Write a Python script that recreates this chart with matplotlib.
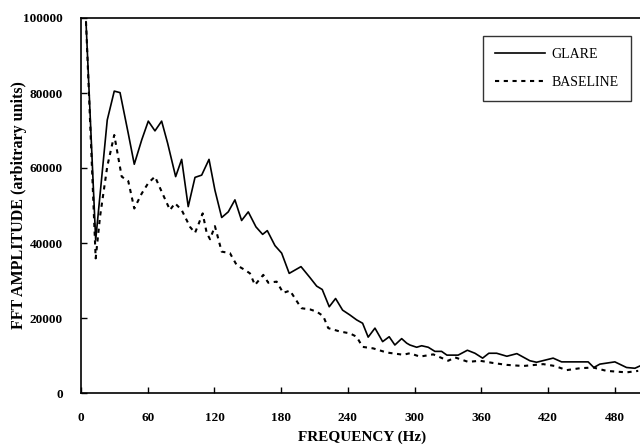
import matplotlib
matplotlib.use("Agg")
import matplotlib.pyplot as plt

# ---- data ----
glare_freq = [4.5, 13.2, 23.6, 29.9, 35.1, 42.5, 47.9, 54.6, 60.5, 66.5, 72.5, 77.9, 85.1, 90.5,
              96.4, 102.5, 108.5, 115.1, 120.4, 126.5, 132.4, 138.4, 144.4, 150.4, 157.3, 163.3,
              167.5, 174.4, 180.4, 187.2, 197.8, 205.8, 211.9, 216.9, 223.2, 228.9, 235.2, 241.8,
              247.8, 253.2, 258.2, 264.3, 271.2, 277.1, 282.2, 288.3, 292.8, 295.7, 301.8, 306.3,
              312.2, 318.2, 324.2, 329.0, 339.1, 347.4, 354.2, 361.1, 366.7, 373.7, 382.9, 391.9,
              403.6, 409.6, 424.5, 432.1, 444.0, 456.0, 461.1, 466.5, 480.0, 490.5, 498.0, 502.5]
glare_amp = [99000, 40800, 72800, 80500, 80100, 69200, 61000, 67500, 72500, 69900, 72500, 66600,
             57700, 62300, 49700, 57500, 58100, 62300, 54100, 46800, 48300, 51500, 46000, 48300,
             44300, 42300, 43300, 39300, 37300, 31900, 33700, 30800, 28500, 27600, 23000, 25200,
             22100, 20800, 19500, 18600, 14900, 17300, 13700, 15000, 12800, 14500, 13300, 12800,
             12200, 12600, 12200, 11100, 11100, 10100, 10100, 11400, 10600, 9300, 10600, 10600,
             9800, 10500, 8600, 8200, 9300, 8300, 8300, 8300, 6800, 7700, 8300, 6800, 6600, 7200]

baseline_freq = [4.5, 13.2, 17.1, 23.6, 29.9, 36.6, 42.5, 47.9, 54.6, 60.5, 66.5, 72.5, 80.0, 84.5,
                 90.5, 95.0, 98.0, 102.5, 105.4, 109.4, 113.0, 116.0, 120.4, 126.5, 133.9, 140.0,
                 147.4, 151.9, 156.4, 163.9, 168.4, 175.9, 181.8, 187.9, 195.3, 198.4, 205.8, 211.9,
                 217.8, 222.3, 232.8, 241.8, 247.8, 253.2, 262.7, 274.8, 289.7, 295.7, 304.7, 316.7,
                 330.2, 336.2, 348.1, 358.7, 370.6, 382.7, 397.6, 415.6, 426.1, 436.6, 448.5, 460.5,
                 472.5, 481.5, 490.5, 501.0]
baseline_amp = [99000, 35900, 47000, 60400, 68800, 57700, 56500, 49200, 53200, 56000, 57700, 53700,
                48800, 50600, 48800, 46100, 44300, 42700, 44800, 47900, 42700, 41000, 44500, 37700,
                37300, 34100, 32800, 31900, 28800, 31500, 29400, 29700, 26700, 27300, 23900, 22600,
                22300, 21700, 20500, 17300, 16400, 15900, 15000, 12300, 11900, 10800, 10200, 10600,
                9700, 10300, 8600, 9500, 8300, 8600, 8000, 7500, 7200, 7700, 7200, 6100, 6600, 6800,
                5900, 5700, 5500, 5900]

x_ticks = [0, 60, 120, 180, 240, 300, 360, 420, 480]
y_ticks = [0, 20000, 40000, 60000, 80000, 100000]

serif = ["Liberation Serif", "DejaVu Serif"]

fig = plt.figure(figsize=(6.4, 4.48), dpi=100)
ax = fig.add_axes([81 / 640, 55 / 448, 560 / 640, 375 / 448])

ax.plot(glare_freq, glare_amp, color="black", lw=1.2, ls="-", label="GLARE")
ax.plot(baseline_freq, baseline_amp, color="black", lw=1.5, ls=(0, (2, 2.2)), label="BASELINE")

ax.set_xlim(0, 503.5)
ax.set_ylim(0, 100000)
ax.set_xticks(x_ticks)
ax.set_yticks(y_ticks)
ax.set_xticklabels([str(t) for t in x_ticks], family=serif, fontweight="bold", fontsize=9.5)
ax.set_yticklabels([str(t) for t in y_ticks], family=serif, fontweight="bold", fontsize=9.5)
ax.tick_params(axis="both", direction="in", length=4, width=1.0, colors="black")
ax.tick_params(axis="y", pad=13)
ax.tick_params(axis="x", pad=14)

for s in ax.spines.values():
    s.set_linewidth(1.2)
    s.set_color("black")

ax.set_xlabel("FREQUENCY (Hz)", family=serif, fontweight="bold", fontsize=11)
ax.set_ylabel("FFT AMPLITUDE (arbitrary units)", family=serif, fontweight="bold", fontsize=11.5)
ax.xaxis.set_label_coords((362 - 81) / 560, -(431 - 393) / 375)
ax.yaxis.set_label_coords(-(81 - 27) / 560, (393 - 205) / 375)

leg = ax.legend(loc="upper left", bbox_to_anchor=((483 - 81) / 560, (393 - 36) / 375),
                prop={"family": serif, "size": 10}, frameon=True, fancybox=False,
                edgecolor="black", handlelength=3.6, borderpad=0.85, labelspacing=1.1,
                handletextpad=0.5, borderaxespad=0)
leg.get_frame().set_linewidth(1.0)

fig.savefig("out.png", dpi=100)
